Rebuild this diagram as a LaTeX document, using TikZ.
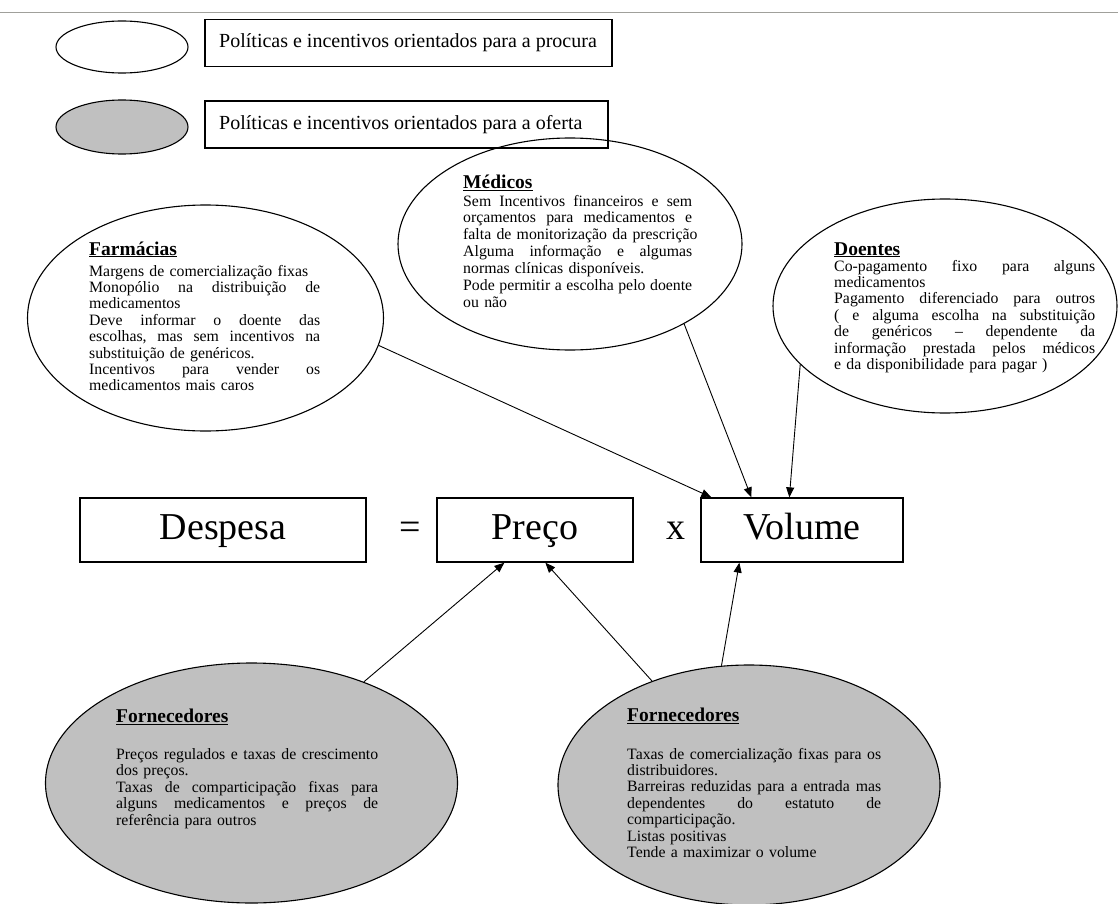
\documentclass[tikz,border=0pt]{standalone}
\usepackage{fontspec}
\setmainfont{Liberation Serif}
\usetikzlibrary{shapes.geometric,arrows.meta,calc}
\newcommand{\W}{200pt}
\newcommand{\jl}[1]{\makebox[\W][s]{#1}}
\newcommand{\plainl}[1]{\makebox[\W][l]{#1}}
\definecolor{ovgray}{RGB}{192,192,192}
\definecolor{rulegray}{RGB}{160,160,155}
\begin{document}
\begin{tikzpicture}[x=1pt,y=-1pt,
  oval/.style={ellipse, draw, line width=1.1pt, inner sep=0pt},
  supply/.style={oval, fill=ovgray},
  legbox/.style={rectangle, draw, line width=1.5pt, inner sep=0pt},
  legtext/.style={anchor=west, inner sep=0pt, font=\fontsize{20}{24}\selectfont},
  eqbox/.style={rectangle, draw, line width=1.3pt, inner sep=0pt, text height=26pt, text depth=8pt, font=\fontsize{38}{42}\selectfont},
  eqsym/.style={anchor=base, inner sep=0pt, font=\fontsize{38}{42}\selectfont},
  ttl/.style={anchor=base west, inner sep=0pt, font=\fontsize{19.5}{22}\selectfont\bfseries},
  body/.style={anchor=base west, inner sep=0pt, align=left, font=\fontsize{15.8}{16.4}\selectfont},
  arr/.style={-{Triangle[length=10pt,width=8pt]}, line width=0.9pt}]
\useasboundingbox (0,0) rectangle (1118,904);
% top rule
\coordinate (rl) at (0,12.5);
\coordinate (rr) at (1118,12.5);
\draw[rulegray, line width=1.5pt] (rl) -- (rr);
% legend
\node[oval, minimum width=132pt, minimum height=52pt] (leg1) at (122,47) {};
\node[legbox, minimum width=407pt, minimum height=47pt] (lb1) at (408.5,43) {};
\node[legtext] (lt1) at (219,43) {Políticas e incentivos orientados para a procura};
\node[supply, minimum width=132pt, minimum height=54pt] (leg2) at (122,127) {};
\node[legbox, minimum width=403pt, minimum height=47pt] (lb2) at (406.5,124.5) {};
\node[legtext] (lt2) at (219,124.5) {Políticas e incentivos orientados para a oferta};
% demand ellipses
\node[oval, minimum width=356pt, minimum height=226pt] (farm) at (205.5,318) {};
\node[oval, minimum width=344pt, minimum height=212pt] (med) at (570,244) {};
\node[oval, minimum width=344pt, minimum height=214pt] (doe) at (945,306) {};
\node[ttl] (farmT) at (89,255) {\underline{Farmácias}};
\node[body, text width=231pt] (farmB) at (89,276) {\renewcommand{\W}{231pt}%
\plainl{Margens de comercialização fixas}\\
\jl{Monopólio\hfill na\hfill distribuição\hfill de}\\
\plainl{medicamentos}\\
\jl{Deve\hfill informar\hfill o\hfill doente\hfill das}\\
\jl{escolhas,\hfill mas\hfill sem\hfill incentivos\hfill na}\\
\plainl{substituição de genéricos.}\\
\jl{Incentivos\hfill para\hfill vender\hfill os}\\
\plainl{medicamentos mais caros}};
\node[ttl] (medT) at (463,189) {\underline{Médicos}};
\node[body, text width=229pt, font=\fontsize{15.8}{16.9}\selectfont] (medB) at (463,206) {\renewcommand{\W}{229pt}%
\jl{Sem\hfill Incentivos\hfill financeiros\hfill e\hfill sem}\\
\jl{orçamentos\hfill para\hfill medicamentos\hfill e}\\
\plainl{falta de monitorização da prescrição}\\
\jl{Alguma\hfill informação\hfill e\hfill algumas}\\
\plainl{normas clínicas disponíveis.}\\
\jl{Pode\hfill permitir\hfill a\hfill escolha\hfill pelo\hfill doente}\\
\plainl{ou não}};
\node[ttl] (doeT) at (834,255) {\underline{Doentes}};
\node[body, text width=261pt] (doeB) at (834,271) {\renewcommand{\W}{261pt}%
\jl{Co-pagamento\hfill fixo\hfill para\hfill alguns}\\
\plainl{medicamentos}\\
\jl{Pagamento\hfill diferenciado\hfill para\hfill outros}\\
\jl{(\hfill e\hfill alguma\hfill escolha\hfill na\hfill substituição}\\
\jl{de\hfill genéricos\hfill –\hfill dependente\hfill da}\\
\jl{informação\hfill prestada\hfill pelos\hfill médicos}\\
\plainl{e da disponibilidade para pagar )}};
% equation
\node[eqbox, minimum width=286pt, minimum height=64pt] (desp) at (223,530) {Despesa};
\node[eqsym] (eq) at (410,539) {=};
\node[eqbox, minimum width=196pt, minimum height=64pt] (pre) at (535,530) {Preço};
\node[eqsym] (times) at (676,539) {x};
\node[eqbox, minimum width=202pt, minimum height=64pt] (vol) at (802,530) {Volume};
% supply ellipses
\node[supply, minimum width=412pt, minimum height=240pt] (fl) at (251.5,783) {};
\node[supply, minimum width=382pt, minimum height=240pt] (fr) at (749,785) {};
\node[ttl] (flT) at (116,722.5) {\underline{Fornecedores}};
\node[body, text width=262pt, font=\fontsize{15.8}{16.6}\selectfont] (flB) at (116,759) {\renewcommand{\W}{262pt}%
\jl{Preços\hfill regulados\hfill e\hfill taxas\hfill de\hfill crescimento}\\
\plainl{dos preços.}\\
\jl{Taxas\hfill de\hfill comparticipação\hfill fixas\hfill para}\\
\jl{alguns\hfill medicamentos\hfill e\hfill preços\hfill de}\\
\plainl{referência para outros}};
\node[ttl] (frT) at (627,721.5) {\underline{Fornecedores}};
\node[body, text width=254pt] (frB) at (627,759) {\renewcommand{\W}{254pt}%
\jl{Taxas\hfill de\hfill comercialização\hfill fixas\hfill para\hfill os}\\
\plainl{distribuidores.}\\
\jl{Barreiras\hfill reduzidas\hfill para\hfill a\hfill entrada\hfill mas}\\
\jl{dependentes\hfill do\hfill estatuto\hfill de}\\
\plainl{comparticipação.}\\
\plainl{Listas positivas}\\
\plainl{Tende a maximizar o volume}};
% arrow targets
\coordinate (v1) at ($(vol.north west)+(11,0)$);
\coordinate (v2) at ($(vol.north west)+(51,0)$);
\coordinate (v3) at ($(vol.north west)+(89,0)$);
\coordinate (v4) at ($(vol.south west)+(39,0)$);
\coordinate (p1) at ($(pre.south west)+(68,0)$);
\coordinate (p2) at ($(pre.south west)+(109,0)$);
% arrows
\draw[arr] (farm.-9.6) -- (v1);
\draw[arr] (med.-35.3) -- (v2);
\draw[arr] (doe.202) -- (v3);
\draw[arr] (fl.42.6) -- (p1);
\draw[arr] (fr.133.3) -- (p2);
\draw[arr] (fr.103.8) -- (v4);
\end{tikzpicture}
\end{document}
